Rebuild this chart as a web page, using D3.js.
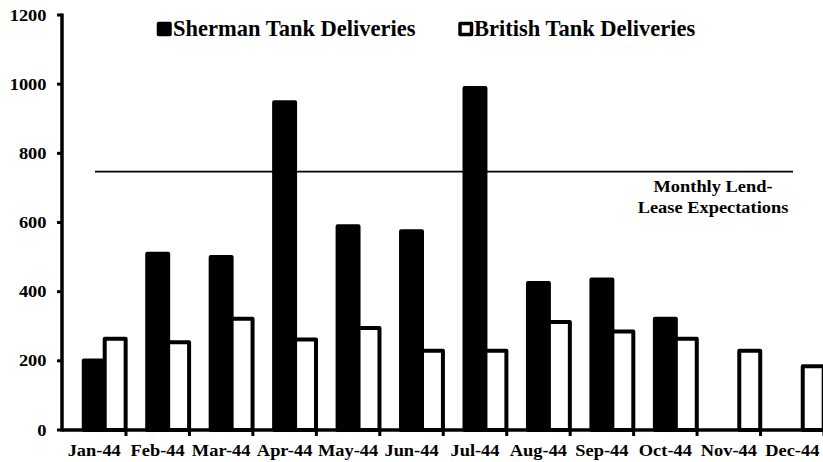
<!DOCTYPE html>
<html>
<head>
<meta charset="utf-8">
<script src="https://cdn.jsdelivr.net/npm/d3@7"></script>
<style>
  html, body { margin: 0; padding: 0; background: #fff; }
  svg { display: block; }
  text { font-family: "Liberation Serif", "Times New Roman", serif; font-weight: bold; fill: #000; }
</style>
</head>
<body>
<script>
const months = ["Jan-44","Feb-44","Mar-44","Apr-44","May-44","Jun-44","Jul-44","Aug-44","Sep-44","Oct-44","Nov-44","Dec-44"];
const sherman = [201, 510, 500, 948, 589, 575, 989, 425, 435, 322, 0, 0];
const british = [264, 254, 322, 262, 295, 229, 229, 312, 285, 264, 229, 184];
const expectation = 747;
const yTicks = [0, 200, 400, 600, 800, 1000, 1200];
const seriesNames = ["Sherman Tank Deliveries", "British Tank Deliveries"];
const expectationLabel = ["Monthly Lend-", "Lease Expectations"];

const W = 823, H = 462;
const svg = d3.select("body").append("svg").attr("width", W).attr("height", H);

const x = d3.scaleBand().domain(months).range([62.5, 824]).padding(0);
const y = d3.scaleLinear().domain([0, 1200]).range([430, 15]);
const bw = x.bandwidth() * 0.33;
const SX = 1.15;

// bars
const g = svg.append("g");
g.selectAll("rect.sh").data(months.map((m, i) => ({m, v: sherman[i]})).filter(d => d.v > 0))
  .join("rect").attr("class", "sh")
  .attr("x", d => x(d.m) + x.bandwidth() / 2 - bw / 2)
  .attr("y", d => y(d.v))
  .attr("width", bw)
  .attr("height", d => y(0) - y(d.v))
  .attr("fill", "#000").attr("stroke", "#000").attr("stroke-width", 4).attr("stroke-linejoin", "round");

g.selectAll("rect.br").data(months.map((m, i) => ({m, v: british[i]})))
  .join("rect").attr("class", "br")
  .attr("x", d => x(d.m) + x.bandwidth() / 2 + bw / 2)
  .attr("y", d => y(d.v))
  .attr("width", bw)
  .attr("height", d => y(0) - y(d.v))
  .attr("fill", "#fff").attr("stroke", "#000").attr("stroke-width", 4).attr("stroke-linejoin", "round");

// expectation line
svg.append("line")
  .attr("x1", 95).attr("x2", 793)
  .attr("y1", y(expectation)).attr("y2", y(expectation))
  .attr("stroke", "#000").attr("stroke-width", 1.6);

expectationLabel.forEach((t, i) => {
  svg.append("text")
    .attr("transform", `translate(713,${192 + i * 21}) scale(${SX},1)`)
    .attr("text-anchor", "middle")
    .attr("font-size", 16)
    .text(t);
});

// y axis
const yAxis = svg.append("g");
yAxis.append("line").attr("x1", 62).attr("x2", 62).attr("y1", y(1200) - 1.5).attr("y2", y(0) + 1.5)
  .attr("stroke", "#000").attr("stroke-width", 3.5);
yTicks.forEach(t => {
  yAxis.append("line").attr("x1", 57).attr("x2", 62).attr("y1", y(t)).attr("y2", y(t))
    .attr("stroke", "#000").attr("stroke-width", 3);
  yAxis.append("text")
    .attr("transform", `translate(46.5,${y(t) + 5.5}) scale(${SX},1)`)
    .attr("text-anchor", "end")
    .attr("font-size", 16)
    .text(t);
});

// x axis
const xAxis = svg.append("g");
xAxis.append("line").attr("x1", 62).attr("x2", 824).attr("y1", y(0)).attr("y2", y(0))
  .attr("stroke", "#000").attr("stroke-width", 3.5);
months.forEach(m => {
  const bx = x(m) + x.bandwidth();
  xAxis.append("line").attr("x1", bx).attr("x2", bx).attr("y1", y(0)).attr("y2", y(0) + 6)
    .attr("stroke", "#000").attr("stroke-width", 3);
  xAxis.append("text")
    .attr("transform", `translate(${x(m) + x.bandwidth() / 2},456) scale(${SX},1)`)
    .attr("text-anchor", "middle")
    .attr("font-size", 16)
    .text(m);
});

// legend
const leg = svg.append("g");
leg.append("rect").attr("x", 158.5).attr("y", 23.5).attr("width", 11.5).attr("height", 11)
  .attr("fill", "#000").attr("stroke", "#000").attr("stroke-width", 3.5).attr("stroke-linejoin", "round");
leg.append("text").attr("x", 173).attr("y", 36).attr("font-size", 22.5).text(seriesNames[0]);
leg.append("rect").attr("x", 460).attr("y", 23.5).attr("width", 11.5).attr("height", 11)
  .attr("fill", "#fff").attr("stroke", "#000").attr("stroke-width", 3.5).attr("stroke-linejoin", "round");
leg.append("text").attr("x", 474).attr("y", 36).attr("font-size", 22.5).text(seriesNames[1]);
</script>
</body>
</html>
